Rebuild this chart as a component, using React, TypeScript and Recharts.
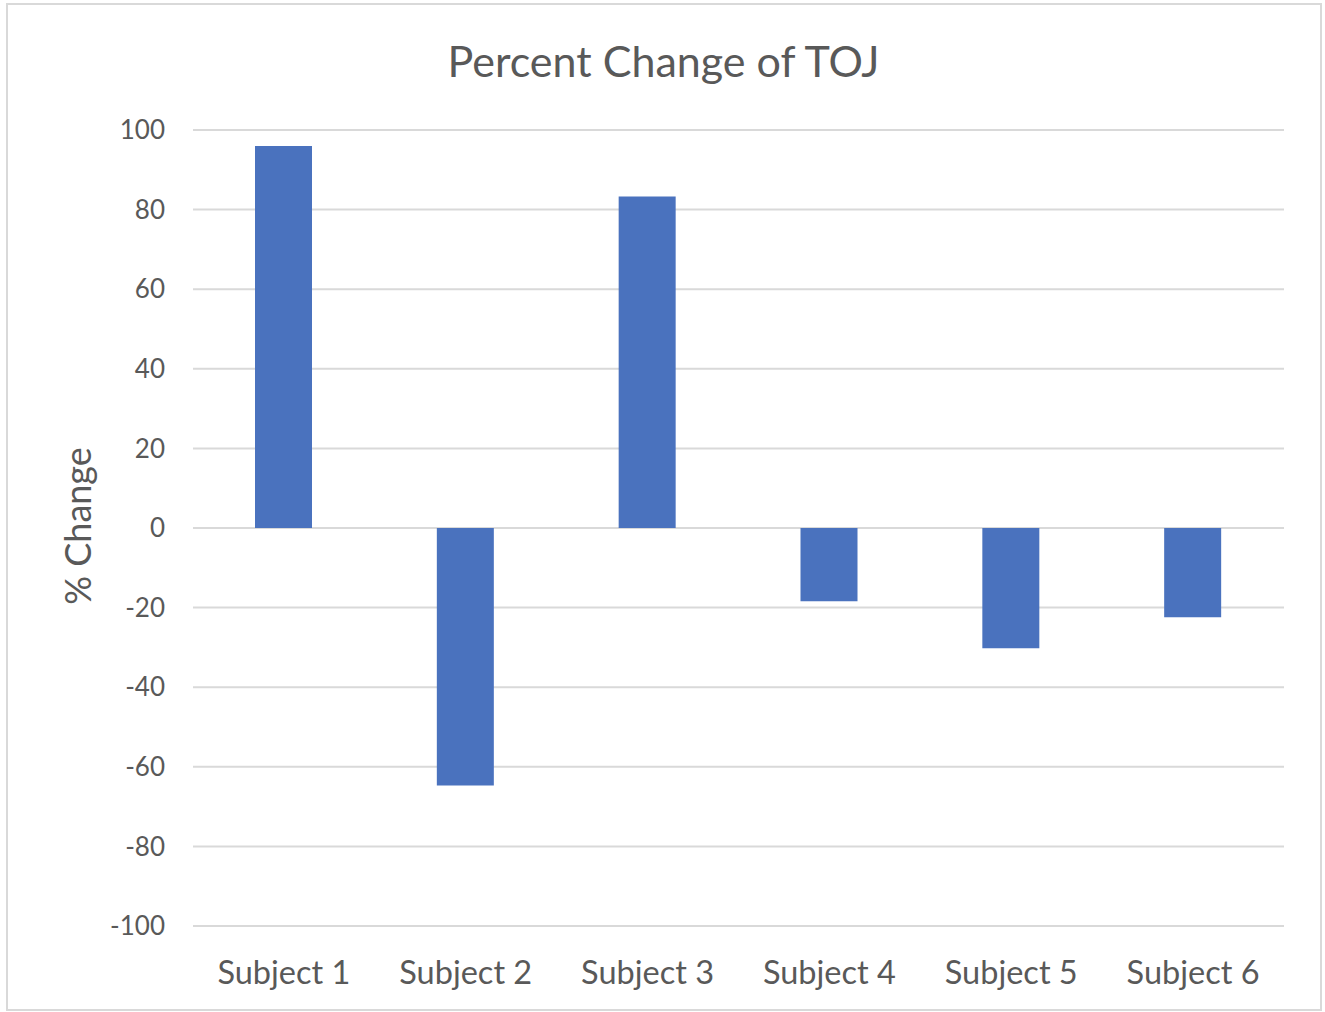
import React from 'react';
import { BarChart, Bar, XAxis, YAxis, CartesianGrid } from 'recharts';

const subjects = ['Subject 1', 'Subject 2', 'Subject 3', 'Subject 4', 'Subject 5', 'Subject 6'];
const percentChange = [96, -64.7, 83.3, -18.4, -30.2, -22.4];
const yTicks = [-100, -80, -60, -40, -20, 0, 20, 40, 60, 80, 100];

const data = subjects.map((s, i) => ({ name: s, value: percentChange[i] }));

const FONT = 'Lato, "Open Sans", sans-serif';
const TEXT = '#595959';

export default function App() {
  return (
    <div style={{ position: 'absolute', left: 0, top: 0, width: 1325, height: 1012, background: '#fff', fontFamily: FONT }}>
      <div style={{ position: 'absolute', left: 6, top: 3, width: 1312, height: 1004, border: '2px solid #d9d9d9', boxSizing: 'content-box' }} />
      <div style={{ position: 'absolute', left: 0, top: 35, width: 1327, textAlign: 'center', fontSize: 43, color: TEXT, lineHeight: '52px' }}>
        Percent Change of TOJ
      </div>
      <div style={{ position: 'absolute', left: 77, top: 526, transform: 'translate(-50%, -50%) rotate(-90deg)', fontSize: 36, color: TEXT, whiteSpace: 'nowrap', lineHeight: '40px' }}>
        % Change
      </div>
      <div style={{ position: 'absolute', left: 0, top: 0 }}>
        <BarChart width={1325} height={1012} data={data} margin={{ top: 130, right: 41, bottom: 26, left: 73 }}>
          <CartesianGrid horizontal vertical={false} stroke="#d9d9d9" strokeWidth={2} />
          <XAxis
            dataKey="name"
            axisLine={false}
            tickLine={false}
            height={60}
            tickSize={0}
            tickMargin={35}
            tick={{ fill: TEXT, fontSize: 32.5, fontFamily: FONT }}
            interval={0}
          />
          <YAxis
            domain={[-100, 100]}
            ticks={yTicks}
            width={120}
            axisLine={false}
            tickLine={false}
            tickSize={0}
            tickMargin={28}
            tick={{ fill: TEXT, fontSize: 26, fontFamily: FONT }}
            interval={0}
          />
          <Bar dataKey="value" fill="#4a72be" barSize={57} isAnimationActive={false} />
        </BarChart>
      </div>
    </div>
  );
}
